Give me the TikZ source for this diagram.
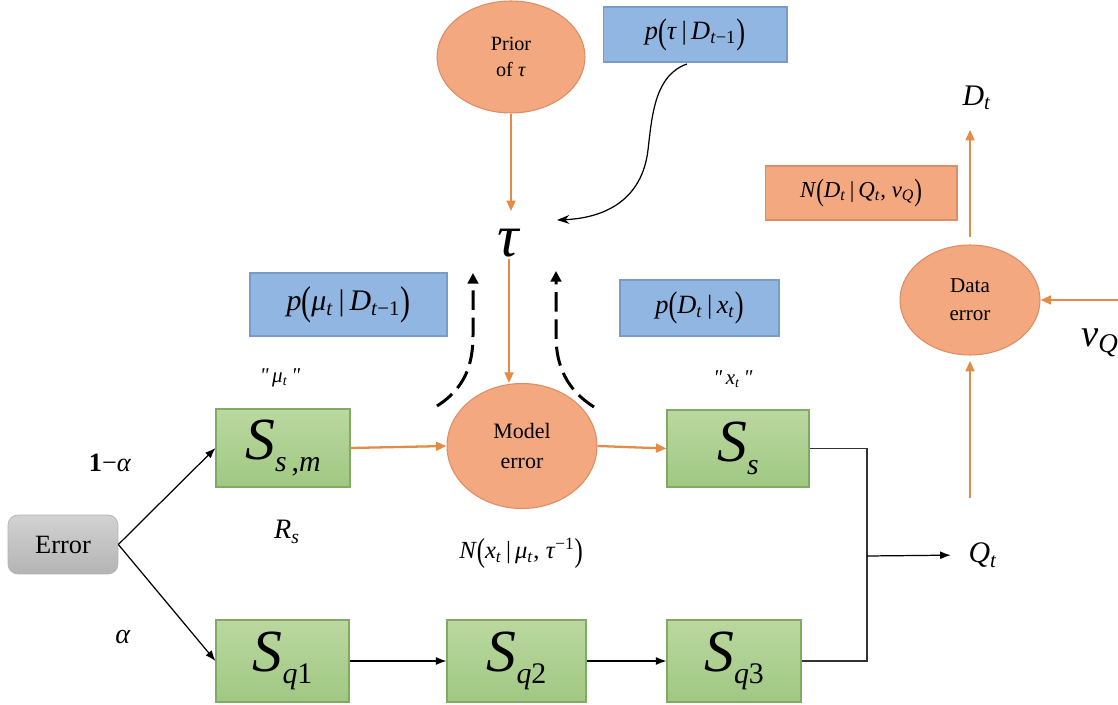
\documentclass[tikz,border=0pt]{standalone}
\usepackage{fontspec}
\setmainfont{Liberation Serif}
\newfontfamily\qfont{Liberation Serif}[Ligatures=TeXOff]
\usepackage{graphicx}
\usetikzlibrary{shapes.geometric,arrows.meta,calc}
\definecolor{bluefill}{RGB}{146,182,226}
\definecolor{blueline}{RGB}{120,155,200}
\definecolor{salmon}{RGB}{243,168,128}
\definecolor{salmonline}{RGB}{222,140,100}
\definecolor{greentop}{RGB}{186,216,160}
\definecolor{greenbot}{RGB}{160,200,130}
\definecolor{greenline}{RGB}{130,170,100}
\definecolor{orangearrow}{RGB}{226,140,72}
\definecolor{greytop}{RGB}{210,210,210}
\definecolor{greybot}{RGB}{180,180,180}
\newcommand{\fsz}[1]{\fontsize{#1}{#1}\selectfont}
\newcommand{\mi}[1]{\textit{#1}}
\newcommand{\sbs}[1]{\textsubscript{#1}}
\newcommand{\lpar}{\raisebox{-0.12em}{\scalebox{1}[1.35]{(}}}
\newcommand{\rpar}{\raisebox{-0.12em}{\scalebox{1}[1.35]{)}}}
\newcommand{\bigS}[1]{{\fsz{34}\mi{S}}\raisebox{-7pt}{\fsz{17}#1}}
\newcommand{\qq}{{\qfont\itshape\symbol{34}}}
\begin{document}
\begin{tikzpicture}[x=0.02cm,y=-0.02cm,
  bluebox/.style={draw=blueline,fill=bluefill,line width=0.6pt,inner sep=0pt},
  salbox/.style={draw=salmonline,fill=salmon,line width=0.6pt,inner sep=0pt},
  salell/.style={ellipse,draw=salmonline,fill=salmon,line width=0.6pt,inner sep=0pt,align=center},
  greenbox/.style={draw=greenline,top color=greentop,bottom color=greenbot,line width=0.6pt,inner sep=0pt},
  oarrow/.style={draw=orangearrow,line width=1.3pt,-{Triangle[length=6pt,width=5pt]}},
  barrow/.style={draw=black,line width=0.7pt,-{Latex[length=6pt,width=4.5pt]}},
  bline/.style={draw=black!80,line width=0.7pt},
  darrow/.style={draw=black,line width=1.7pt,dash pattern=on 11pt off 4.5pt,-{Triangle[length=6pt,width=6pt]}},
  lbl/.style={inner sep=1pt}]
\useasboundingbox (0,0) rectangle (1118,705);

% top part
\node[salell,minimum width=2.96cm,minimum height=2.24cm,font=\fontsize{11.5}{15}\selectfont] (prior) at (511,57)
  {Prior\\of \mi{τ}};
\node[bluebox,minimum width=3.68cm,minimum height=1.1cm] (ptau) at (695,34.5)
  {\fsz{15}\mi{p}\lpar\mi{τ}\,|\,\mi{D}\sbs{\mi{t}−1}\rpar};
\node[lbl] (tau) at (509,243) {\fsz{34}\mi{τ}};
\coordinate (ptaustart) at (687,64);
\coordinate (tauin) at (557,220);
\draw[black,line width=0.7pt,-{Stealth[length=7pt,width=5pt]}] (ptaustart)
  .. controls (655,75) and (652,115) .. (648,150)
  .. controls (642,200) and (605,218) .. (tauin);
\draw[oarrow,shorten >=9pt] (prior.south) -- (prior.south |- tau.north);

% probability boxes
\node[bluebox,minimum width=3.94cm,minimum height=1.26cm] (pmu) at (348.5,304.5)
  {\fsz{17}\mi{p}\lpar\mi{μ}\sbs{\mi{t}}\,|\,\mi{D}\sbs{\mi{t}−1}\rpar};
\node[bluebox,minimum width=3.18cm,minimum height=1.12cm] (pDx) at (699.5,308)
  {\fsz{15}\mi{p}\lpar\mi{D}\sbs{\mi{t}}\,|\,\mi{x}\sbs{\mi{t}}\rpar};

% dashed arrows
\coordinate (dl0) at (437,406);
\coordinate (dl1) at (473,273);
\coordinate (dr0) at (594,407);
\coordinate (dr1) at (556,271);
\draw[darrow] (dl0) .. controls (465,388) and (473,365) .. (473,335) -- (dl1);
\draw[darrow] (dr0) .. controls (567,390) and (556,366) .. (556,336) -- (dr1);

\node[lbl] (mulab) at (280,378) {\fsz{12}\qq\,\mi{μ}\sbs{\mi{t}}\,\qq};
\node[lbl] (xlab) at (733,379) {\fsz{12}\qq\,\mi{x}\sbs{\mi{t}}\,\qq};

% middle row
\node[greenbox,minimum width=2.68cm,minimum height=1.56cm] (Ssm) at (283,448)
  {\bigS{\mi{s}\,,\mi{m}}};
\node[salell,minimum width=3.0cm,minimum height=2.5cm,font=\fontsize{12.5}{17}\selectfont] (model) at (522,446)
  {Model\\error};
\node[greenbox,minimum width=2.84cm,minimum height=1.54cm] (Ss) at (738,448.5)
  {\bigS{\mi{s}}};
\node[draw=black!30,top color=greytop,bottom color=greybot,rounded corners=0.2cm,
  minimum width=2.2cm,minimum height=1.18cm,inner sep=0pt] (Error) at (63,544.5)
  {\fsz{15}Error};

\draw[oarrow] (tau.south) -- (tau.south |- model.north);
\draw[oarrow] (Ssm.east) -- (model.west);
\draw[oarrow] (model.east) -- (Ss.west);

% bottom row
\node[greenbox,minimum width=2.66cm,minimum height=1.64cm] (Sq1) at (282.5,661)
  {\bigS{\mi{q}1}};
\node[greenbox,minimum width=2.78cm,minimum height=1.64cm] (Sq2) at (516.5,661)
  {\bigS{\mi{q}2}};
\node[greenbox,minimum width=2.68cm,minimum height=1.64cm] (Sq3) at (734,661)
  {\bigS{\mi{q}3}};

\draw[barrow] (Error.east) -- (Ssm.west);
\draw[barrow] (Error.east) -- (Sq1.west);
\draw[barrow] (Sq1.east) -- (Sq2.west);
\draw[barrow] (Sq2.east) -- (Sq3.west);

\node[lbl] (oneminus) at (110,463) {\fsz{15}\textbf{1}−\mi{α}};
\node[lbl] (alpha) at (123,637) {\fsz{16}\mi{α}};
\node[lbl] (Rs) at (287,532) {\fsz{16}\mi{R}\sbs{\mi{s}}};
\node[lbl] (Nx) at (521,553)
  {\fsz{14}\mi{N}\lpar\mi{x}\sbs{\mi{t}}\,|\,\mi{μ}\sbs{\mi{t}}, \mi{τ}\textsuperscript{−1}\rpar};

% junction and Q_t
\coordinate (jx) at (867,556);
\node[lbl] (Qt) at (983,555) {\fsz{17}\mi{Q}\sbs{\mi{t}}};
\draw[bline] (Ss.east) -| (jx) |- (Sq3.east);
\draw[barrow,shorten >=9pt] (jx) -- (Qt.west);

% right part
\node[salell,minimum width=2.8cm,minimum height=2.2cm,font=\fontsize{12}{16}\selectfont] (data) at (970,300)
  {Data\\error};
\node[lbl] (Dt) at (977,98) {\fsz{17}\mi{D}\sbs{\mi{t}}};
\node[salbox,minimum width=3.84cm,minimum height=1.08cm] (ND) at (861,193)
  {\fsz{13}\mi{N}\lpar\mi{D}\sbs{\mi{t}}\,|\,\mi{Q}\sbs{\mi{t}}, \mi{v}\sbs{\mi{Q}}\rpar};
\node[lbl] (vQ) at (1100,343) {\fsz{22}\mi{v}\sbs{\mi{Q}}};
\coordinate (vin) at (1118,300);

\draw[oarrow,shorten <=4pt,shorten >=10pt] (data.north) -- (data.north |- Dt.south);
\draw[oarrow,shorten <=24pt,shorten >=3pt] (data.south |- Qt.north) -- (data.south);
\draw[oarrow] (vin) -- (data.east);
\end{tikzpicture}
\end{document}
